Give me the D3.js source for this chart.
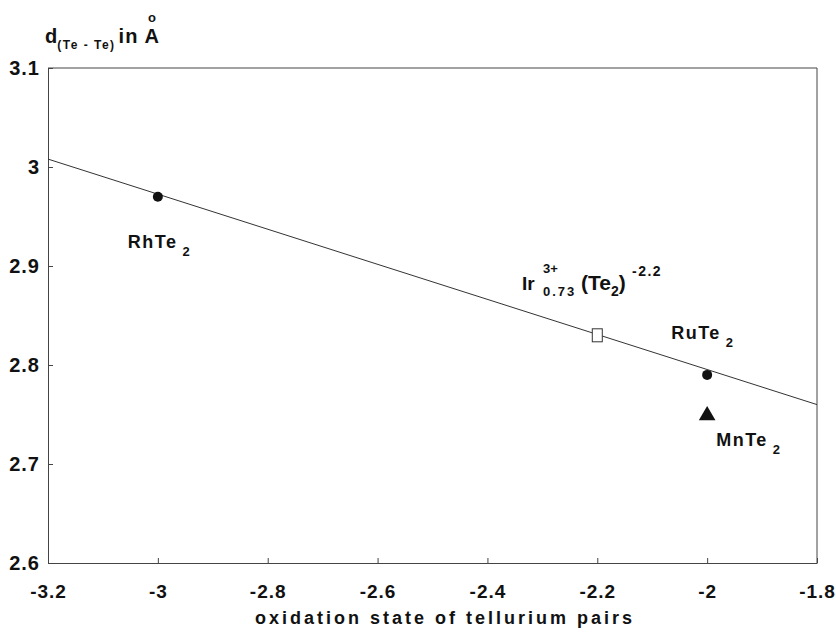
<!DOCTYPE html>
<html>
<head>
<meta charset="utf-8">
<script src="https://cdn.jsdelivr.net/npm/d3@7"></script>
<style>
  body { margin: 0; background: #fff; }
  svg text { font-family: "Liberation Sans", Arial, sans-serif; font-weight: bold; fill: #111; }
  .axis path, .axis line { stroke: #444; stroke-width: 1; }
</style>
</head>
<body>
<div id="chart"></div>
<script>
// compounds plotted as filled circles
const circleNames = ['RhTe', 'RuTe'];
const circleX = [-3.0, -2.0];
const circleY = [2.97, 2.79];

// MnTe2 (triangle) and Ir compound (open square)
const triX = -2.0, triY = 2.75;
const squareX = -2.2, squareY = 2.83;

// fitted straight line endpoints
const lineX = [-3.2, -1.8];
const lineY = [3.008, 2.76];

const xTicks = [-3.2, -3, -2.8, -2.6, -2.4, -2.2, -2, -1.8];
const yTicks = [2.6, 2.7, 2.8, 2.9, 3, 3.1];

const W = 836, H = 638;
const margin = { top: 68, right: 19, bottom: 75, left: 48 };
const width = W - margin.left - margin.right;
const height = H - margin.top - margin.bottom;

const svg = d3.select('#chart').append('svg')
    .attr('width', W)
    .attr('height', H);

const g = svg.append('g')
    .attr('transform', 'translate(' + margin.left + ',' + margin.top + ')');

const x = d3.scaleLinear().domain([-3.2, -1.8]).range([0, width]);
const y = d3.scaleLinear().domain([2.6, 3.1]).range([height, 0]);

// axes (ticks point inward)
const xAxis = g.append('g')
    .attr('class', 'axis')
    .attr('transform', 'translate(0,' + height + ')')
    .call(d3.axisBottom(x).tickValues(xTicks).tickFormat(d => String(d))
        .tickSizeInner(-5).tickSizeOuter(0).tickPadding(22));
xAxis.selectAll('text').style('font-size', '19px').attr('letter-spacing', 1).attr('fill', '#111');

const yAxis = g.append('g')
    .attr('class', 'axis')
    .call(d3.axisLeft(y).tickValues(yTicks).tickFormat(d => String(d))
        .tickSizeInner(-5).tickSizeOuter(0).tickPadding(8));
yAxis.selectAll('text').style('font-size', '20px').attr('letter-spacing', 1).attr('fill', '#111');

// frame: top and right edges
g.append('line').attr('x1', 0).attr('x2', width).attr('y1', 0).attr('y2', 0)
    .attr('stroke', '#444');
g.append('line').attr('x1', width).attr('x2', width).attr('y1', 0).attr('y2', height)
    .attr('stroke', '#444');

// fitted line
const lineGen = d3.line().x(d => x(d[0])).y(d => y(d[1]));
g.append('path')
    .datum(lineX.map((v, i) => [v, lineY[i]]))
    .attr('d', lineGen)
    .attr('fill', 'none')
    .attr('stroke', '#333')
    .attr('stroke-width', 1);

// circles
g.selectAll('circle.pt')
    .data(circleX)
    .enter().append('circle')
    .attr('class', 'pt')
    .attr('cx', d => x(d))
    .attr('cy', (d, i) => y(circleY[i]))
    .attr('r', 5)
    .attr('fill', '#111');

// triangle
g.append('path')
    .attr('d', d3.symbol().type(d3.symbolTriangle).size(120)())
    .attr('transform', 'translate(' + x(triX) + ',' + (y(triY) + 1) + ')')
    .attr('fill', '#111');

// open square (slightly taller than wide)
g.append('rect')
    .attr('x', x(squareX) - 5)
    .attr('y', y(squareY) - 6.5)
    .attr('width', 10)
    .attr('height', 13)
    .attr('fill', '#fff')
    .attr('stroke', '#333')
    .attr('stroke-width', 1);

// compound labels with subscript 2
function formula(px, py, base) {
    const t = svg.append('text')
        .attr('x', px).attr('y', py)
        .attr('letter-spacing', 1.5)
        .style('font-size', '18px');
    t.append('tspan').text(base);
    t.append('tspan').attr('dx', 5).attr('dy', 8).style('font-size', '13px').text('2');
}
formula(margin.left + x(-3) - 30, margin.top + y(circleY[0]) + 51, circleNames[0]);
formula(margin.left + x(-2) - 36, margin.top + y(circleY[1]) - 36, circleNames[1]);
formula(margin.left + x(-2) + 9, margin.top + y(triY) + 31, 'MnTe');

// Ir label
const ir = svg.append('text')
    .attr('x', 522).attr('y', 290)
    .style('font-size', '19px');
ir.append('tspan').text('Ir');
ir.append('tspan').attr('x', 543).attr('y', 296).style('font-size', '13px')
    .attr('letter-spacing', 2).text('0.73');
ir.append('tspan').attr('x', 543).attr('y', 273).style('font-size', '13px').text('3+');
ir.append('tspan').attr('x', 581).attr('y', 290).style('font-size', '21px').text('(Te');
ir.append('tspan').attr('dy', 6).style('font-size', '14px').text('2');
ir.append('tspan').attr('dy', -6).style('font-size', '21px').text(')');
ir.append('tspan').attr('x', 632).attr('y', 276).style('font-size', '14px')
    .attr('letter-spacing', 1.5).text('-2.2');

// axis titles
svg.append('text')
    .attr('x', 445).attr('y', 624)
    .attr('text-anchor', 'middle')
    .attr('letter-spacing', 3)
    .style('font-size', '18px')
    .text('oxidation state of tellurium pairs');

const yt = svg.append('text')
    .attr('x', 45).attr('y', 43)
    .style('font-size', '20px');
yt.append('tspan').text('d');
yt.append('tspan').attr('dy', 6).style('font-size', '12px').attr('letter-spacing', 1.5).text('(Te - Te)');
yt.append('tspan').attr('dy', -6).attr('dx', 3).attr('letter-spacing', 1).text('in');
yt.append('tspan').attr('dx', 6).text('A');
svg.append('text')
    .attr('x', 152).attr('y', 22)
    .attr('text-anchor', 'middle')
    .style('font-size', '13px')
    .text('o');
</script>
</body>
</html>
